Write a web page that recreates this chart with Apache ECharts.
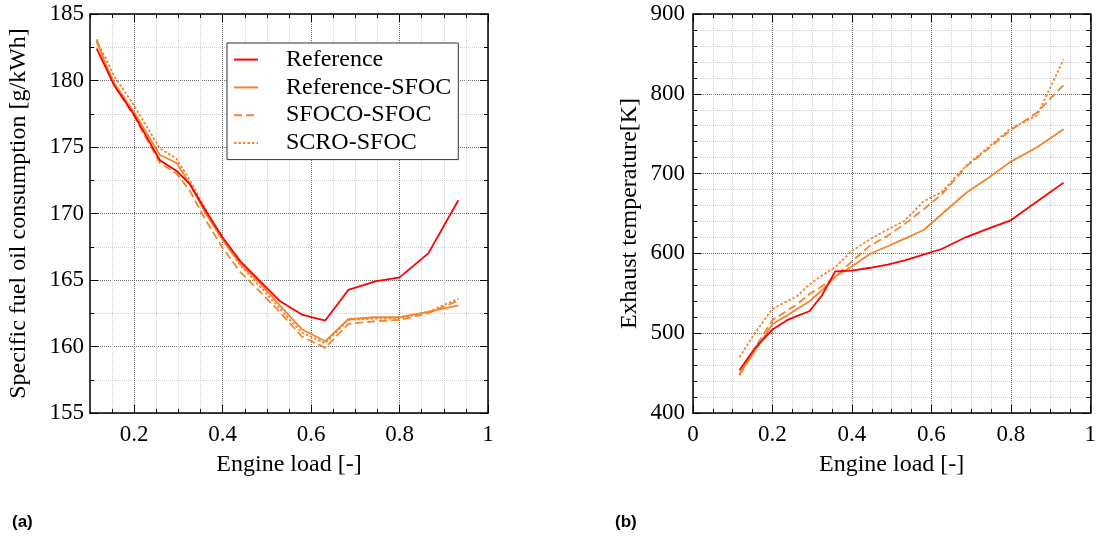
<!DOCTYPE html>
<html>
<head>
<meta charset="utf-8">
<script src="https://cdn.jsdelivr.net/npm/echarts@6/dist/echarts.min.js"></script>
<style>
html,body{margin:0;padding:0;background:#fff;}
#c{width:1099px;height:538px;}
</style>
</head>
<body>
<div id="c"></div>
<script>
// ---- (a) Specific fuel oil consumption ----
var loadA = [0.115, 0.138, 0.155, 0.2, 0.258, 0.296, 0.326, 0.36, 0.4, 0.44, 0.485, 0.53, 0.579, 0.632, 0.684, 0.745, 0.8, 0.865, 0.933];
var sfocRef     = [182.4, 180.8, 179.6, 177.4, 174.0, 173.2, 172.2, 170.3, 168.2, 166.4, 164.9, 163.4, 162.4, 161.95, 164.25, 164.9, 165.2, 167.0, 171.0];
var sfocRefSfoc = [182.9, 181.0, 179.8, 177.6, 174.4, 173.8, 172.2, 170.1, 168.0, 166.2, 164.75, 163.05, 161.3, 160.4, 162.05, 162.2, 162.2, 162.6, 163.1];
var sfocSfoco   = [183.1, 181.0, 179.7, 177.3, 173.8, 173.0, 171.7, 169.6, 167.4, 165.6, 164.1, 162.55, 160.75, 159.9, 161.7, 161.9, 162.0, 162.5, 163.45];
var sfocScro    = [183.0, 181.5, 180.3, 178.1, 174.9, 174.1, 172.5, 170.4, 168.1, 166.1, 164.5, 162.8, 161.05, 160.25, 162.0, 162.1, 162.1, 162.6, 163.6];

// ---- (b) Exhaust temperature ----
var loadB = [0.117, 0.157, 0.2, 0.236, 0.261, 0.293, 0.324, 0.358, 0.4, 0.446, 0.49, 0.533, 0.58, 0.626, 0.688, 0.743, 0.8, 0.866, 0.933];
var tRef     = [453.5, 482, 504.5, 516, 521.5, 527.5, 547, 577.5, 578.5, 582, 586, 591.2, 598.5, 605.5, 620.5, 631, 641.5, 665, 688.7];
var tRefSfoc = [449, 478.5, 511.5, 522, 530, 540, 553.5, 571, 583.5, 599.5, 609, 618.5, 629, 649, 676, 694.5, 715, 733, 755.5];
var tSfoco   = [447, 482.5, 516.5, 528, 536, 549, 558.5, 570.5, 590, 610, 622, 637, 655, 674, 709, 731, 754.5, 776.5, 811];
var tScro    = [470, 501, 530.5, 540, 546, 561, 572, 583, 603, 618, 630, 641, 665, 677, 710, 733, 756.5, 773, 843];

var seriesNames = ['Reference', 'Reference-SFOC', 'SFOCO-SFOC', 'SCRO-SFOC'];
var xMajorA = [0.2, 0.4, 0.6, 0.8, 1];
var yLabelA = 'Specific fuel oil consumption [g/kWh]';
var yLabelB = 'Exhaust temperature[K]';
var xLabel = 'Engine load [-]';

var RED = '#ff0000', ORANGE = '#f5842d';
var FONT = 'Liberation Serif';
var MAJOR_GRID = '#6e6e6e', MINOR_GRID = '#cfcfcf';

function pairs(xs, ys) { return xs.map(function (x, i) { return [x, ys[i]]; }); }

var styles = [
  { color: RED, type: 'solid' },
  { color: ORANGE, type: 'solid' },
  { color: ORANGE, type: [8, 4] },
  { color: ORANGE, type: [2.5, 2] }
];

var axisLine = { show: true, onZero: false, lineStyle: { color: '#000', width: 1.5 } };
var nameStyle = { fontFamily: FONT, fontSize: 24, color: '#000' };

function fmt(v) {
  if (Math.abs(v - Math.round(v)) < 1e-9) return String(Math.round(v));
  return (Math.round(v * 10) / 10).toFixed(1);
}

var xAxes = [
  // 0: (a) bottom, minor step axis with labels
  { type: 'value', gridIndex: 0, position: 'bottom', min: 0.1, max: 1, interval: 0.05,
    axisLine: axisLine,
    axisTick: { show: true, inside: true, length: 4, lineStyle: { color: '#000', width: 1 } },
    axisLabel: { show: true, margin: 10, fontFamily: FONT, fontSize: 23, color: '#000',
      showMinLabel: false,
      formatter: function (v) { return Math.abs(v * 5 - Math.round(v * 5)) < 1e-6 ? fmt(v) : ''; } },
    splitLine: { show: true, lineStyle: { color: [MINOR_GRID, MINOR_GRID, MAJOR_GRID, MINOR_GRID], type: 'dotted', width: 1 } },
    name: xLabel, nameLocation: 'middle', nameGap: 40, nameTextStyle: nameStyle },
  // 1: (a) bottom major ticks
  { type: 'value', gridIndex: 0, position: 'bottom', min: 0.1, max: 1, interval: 0.05,
    axisLine: { show: false },
    axisTick: { show: true, inside: true, length: 8, customValues: xMajorA, lineStyle: { color: '#000', width: 1 } },
    axisLabel: { show: false }, splitLine: { show: false } },
  // 2: (a) top
  { type: 'value', gridIndex: 0, position: 'top', min: 0.1, max: 1, interval: 0.05,
    axisLine: axisLine,
    axisTick: { show: true, inside: true, length: 4, lineStyle: { color: '#000', width: 1 } },
    axisLabel: { show: false }, splitLine: { show: false } },
  // 3: (a) top major ticks
  { type: 'value', gridIndex: 0, position: 'top', min: 0.1, max: 1, interval: 0.05,
    axisLine: { show: false },
    axisTick: { show: true, inside: true, length: 8, customValues: xMajorA, lineStyle: { color: '#000', width: 1 } },
    axisLabel: { show: false }, splitLine: { show: false } },
  // 4: (b) bottom
  { type: 'value', gridIndex: 1, position: 'bottom', min: 0, max: 1, interval: 0.2,
    axisLine: axisLine,
    axisTick: { show: true, inside: true, length: 8, lineStyle: { color: '#000', width: 1 } },
    minorTick: { show: true, splitNumber: 4, length: 4, lineStyle: { color: '#000', width: 1 } },
    axisLabel: { show: true, margin: 10, fontFamily: FONT, fontSize: 23, color: '#000', formatter: fmt },
    splitLine: { show: true, lineStyle: { color: MAJOR_GRID, type: 'dotted', width: 1 } },
    minorSplitLine: { show: true, lineStyle: { color: MINOR_GRID, type: 'dotted', width: 1 } },
    name: xLabel, nameLocation: 'middle', nameGap: 40, nameTextStyle: nameStyle },
  // 5: (b) top
  { type: 'value', gridIndex: 1, position: 'top', min: 0, max: 1, interval: 0.2,
    axisLine: axisLine,
    axisTick: { show: true, inside: true, length: 8, lineStyle: { color: '#000', width: 1 } },
    minorTick: { show: true, splitNumber: 4, length: 4, lineStyle: { color: '#000', width: 1 } },
    axisLabel: { show: false }, splitLine: { show: false } }
];

var yAxes = [
  // 0: (a) left
  { type: 'value', gridIndex: 0, position: 'left', min: 155, max: 185, interval: 5,
    axisLine: axisLine,
    axisTick: { show: true, inside: true, length: 8, lineStyle: { color: '#000', width: 1 } },
    minorTick: { show: true, splitNumber: 2, length: 4, lineStyle: { color: '#000', width: 1 } },
    axisLabel: { show: true, margin: 6, fontFamily: FONT, fontSize: 23, color: '#000' },
    splitLine: { show: true, lineStyle: { color: MAJOR_GRID, type: 'dotted', width: 1 } },
    minorSplitLine: { show: true, lineStyle: { color: MINOR_GRID, type: 'dotted', width: 1 } },
    name: yLabelA, nameLocation: 'middle', nameGap: 59, nameTextStyle: nameStyle },
  // 1: (a) right
  { type: 'value', gridIndex: 0, position: 'right', min: 155, max: 185, interval: 5,
    axisLine: axisLine,
    axisTick: { show: true, inside: true, length: 8, lineStyle: { color: '#000', width: 1 } },
    minorTick: { show: true, splitNumber: 2, length: 4, lineStyle: { color: '#000', width: 1 } },
    axisLabel: { show: false }, splitLine: { show: false } },
  // 2: (b) left
  { type: 'value', gridIndex: 1, position: 'left', min: 400, max: 900, interval: 100,
    axisLine: axisLine,
    axisTick: { show: true, inside: true, length: 8, lineStyle: { color: '#000', width: 1 } },
    minorTick: { show: true, splitNumber: 5, length: 4, lineStyle: { color: '#000', width: 1 } },
    axisLabel: { show: true, margin: 8, fontFamily: FONT, fontSize: 23, color: '#000' },
    splitLine: { show: true, lineStyle: { color: MAJOR_GRID, type: 'dotted', width: 1 } },
    minorSplitLine: { show: true, lineStyle: { color: MINOR_GRID, type: 'dotted', width: 1 } },
    name: yLabelB, nameLocation: 'middle', nameGap: 51, nameTextStyle: nameStyle },
  // 3: (b) right
  { type: 'value', gridIndex: 1, position: 'right', min: 400, max: 900, interval: 100,
    axisLine: axisLine,
    axisTick: { show: true, inside: true, length: 8, lineStyle: { color: '#000', width: 1 } },
    minorTick: { show: true, splitNumber: 5, length: 4, lineStyle: { color: '#000', width: 1 } },
    axisLabel: { show: false }, splitLine: { show: false } }
];

var dataA = [sfocRef, sfocRefSfoc, sfocSfoco, sfocScro];
var dataB = [tRef, tRefSfoc, tSfoco, tScro];
var series = [];
seriesNames.forEach(function (n, i) {
  series.push({ name: n, type: 'line', xAxisIndex: 0, yAxisIndex: 0, data: pairs(loadA, dataA[i]),
    symbol: 'none', showSymbol: false, z: 10 - i, color: styles[i].color,
    lineStyle: { color: styles[i].color, width: 1.8, type: styles[i].type } });
});
seriesNames.forEach(function (n, i) {
  series.push({ name: n, type: 'line', xAxisIndex: 4, yAxisIndex: 2, data: pairs(loadB, dataB[i]),
    symbol: 'none', showSymbol: false, z: 10 - i, color: styles[i].color,
    lineStyle: { color: styles[i].color, width: 1.8, type: styles[i].type } });
});

var option = {
  animation: false,
  backgroundColor: '#fff',
  grid: [
    { left: 90, top: 14, width: 398, height: 399, containLabel: false },
    { left: 693, top: 14, width: 398, height: 399, containLabel: false }
  ],
  xAxis: xAxes,
  yAxis: yAxes,
  legend: {
    show: true, orient: 'vertical', left: 227, top: 43,
    data: seriesNames, selectedMode: false,
    backgroundColor: '#fff', borderColor: '#333', borderWidth: 1,
    padding: [4.6, 7, 4.6, 6], itemGap: 3.8, itemWidth: 24, itemHeight: 14,
    itemStyle: { opacity: 0, borderWidth: 0 },
    textStyle: { fontFamily: FONT, fontSize: 24, lineHeight: 24, color: '#000', padding: [0, 0, 0, 23] }
  },
  graphic: [
    { type: 'text', left: 12, top: 514, style: { text: '(a)', font: 'bold 17px "Liberation Sans"', fill: '#000' } },
    { type: 'text', left: 615, top: 514, style: { text: '(b)', font: 'bold 17px "Liberation Sans"', fill: '#000' } }
  ],
  series: series
};

var chart = echarts.init(document.getElementById('c'), null, { renderer: 'canvas' });
chart.setOption(option);
</script>
</body>
</html>
